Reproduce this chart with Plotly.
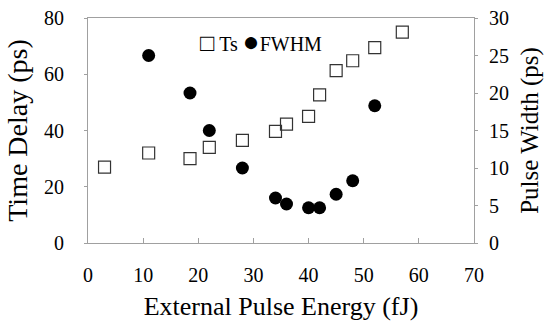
import plotly.graph_objects as go

# Data
ts_energy = [3, 11, 18.5, 22, 28, 34, 36, 40, 42, 45, 48, 52, 57]
ts_delay = [27, 32, 30, 34, 36.5, 39.7, 42.3, 45, 52.7, 61.3, 64.8, 69.5, 75]

fwhm_energy = [11, 18.5, 22, 28, 34, 36, 40, 42, 45, 48, 52]
fwhm_width = [25, 20, 15, 10, 6, 5.2, 4.7, 4.7, 6.5, 8.3, 18.3]

x_ticks = [0, 10, 20, 30, 40, 50, 60, 70]
y_left_ticks = [0, 20, 40, 60, 80]
y_right_ticks = [0, 5, 10, 15, 20, 25, 30]

series_names = ["Ts", "FWHM"]

FONT = "Liberation Serif, Times New Roman, serif"
AXC = "#a0a0a0"

fig = go.Figure()
fig.add_trace(go.Scatter(
    x=ts_energy, y=ts_delay, mode="markers", name=series_names[0],
    marker=dict(symbol="square-open", size=12, color="#333333", line=dict(width=1.2)),
    yaxis="y"))
fig.add_trace(go.Scatter(
    x=fwhm_energy, y=fwhm_width, mode="markers", name=series_names[1],
    marker=dict(symbol="circle", size=13, color="black"),
    yaxis="y2"))

# Legend drawn as text glyphs, as in the original figure
legend_text = ("<span style='font-size:24px'>\u25A1</span> " + series_names[0]
               + " <span style='font-size:28px'>\u25CF</span>" + series_names[1])
fig.add_annotation(x=0.449, y=0.895, xref="paper", yref="paper",
                   text=legend_text, showarrow=False,
                   xanchor="center", yanchor="middle",
                   font=dict(size=20, family=FONT, color="black"))

fig.update_layout(
    width=551, height=321,
    margin=dict(l=88, r=77, t=18, b=78, autoexpand=False),
    paper_bgcolor="white", plot_bgcolor="white",
    font=dict(family=FONT, color="black", size=19),
    showlegend=False,
    xaxis=dict(range=[0, 70], tickvals=x_ticks, showgrid=False, zeroline=False,
               showline=True, linecolor=AXC, linewidth=1, mirror=True,
               ticks="inside", ticklen=5, tickcolor=AXC, automargin=False,
               ticklabelstandoff=14,
               tickfont=dict(size=20, family=FONT),
               title=dict(text="External Pulse Energy (fJ)", font=dict(size=26, family=FONT), standoff=14)),
    yaxis=dict(range=[0, 80], tickvals=y_left_ticks, showgrid=False, zeroline=False,
               showline=True, linecolor=AXC, linewidth=1, automargin=False,
               ticks="outside", ticklen=3, tickcolor=AXC,
               ticklabelstandoff=16,
               tickfont=dict(size=20, family=FONT),
               title=dict(text="Time Delay (ps)", font=dict(size=28, family=FONT), standoff=8)),
    yaxis2=dict(range=[0, 30], tickvals=y_right_ticks, overlaying="y", side="right",
                showgrid=False, zeroline=False, showline=True, linecolor=AXC, linewidth=1,
                ticks="outside", ticklen=3, tickcolor=AXC, automargin=False,
                ticklabelstandoff=7,
                tickfont=dict(size=20, family=FONT),
                title=dict(text="Pulse Width (ps)", font=dict(size=25, family=FONT), standoff=12)),
)

fig.write_html("out.html")
